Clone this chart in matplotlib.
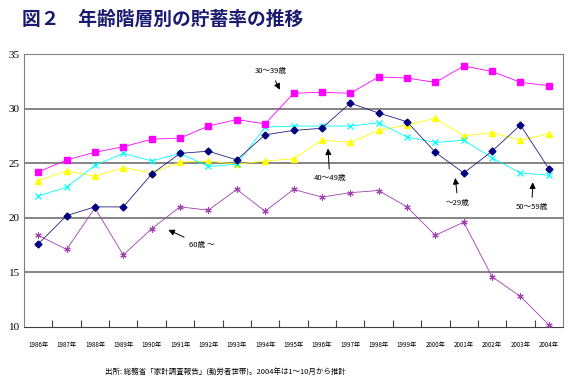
import matplotlib.pyplot as plt
import numpy as np

plt.rcParams['font.family'] = ['Noto Sans CJK JP', 'DejaVu Sans']

# Data
years = [str(y) + '年' for y in range(1986, 2005)]
age_under29 = [23.4, 24.3, 23.8, 24.6, 24.1, 25.1, 25.2, 24.9, 25.2, 25.4,
               27.1, 26.9, 28.0, 28.5, 29.1, 27.5, 27.8, 27.1, 27.7]
age_30s = [24.2, 25.3, 26.0, 26.5, 27.2, 27.3, 28.4, 29.0, 28.6, 31.4,
           31.5, 31.4, 32.9, 32.8, 32.4, 33.9, 33.4, 32.4, 32.1]
age_40s = [17.6, 20.2, 21.0, 21.0, 24.0, 25.9, 26.1, 25.3, 27.6, 28.0,
           28.2, 30.5, 29.6, 28.8, 26.0, 24.1, 26.1, 28.5, 24.5]
age_50s = [22.0, 22.8, 24.8, 25.9, 25.2, 25.9, 24.7, 24.9, 28.3, 28.4,
           28.4, 28.4, 28.7, 27.4, 26.9, 27.1, 25.5, 24.1, 23.9]
age_60plus = [18.4, 17.1, 20.9, 16.6, 19.0, 21.0, 20.7, 22.6, 20.6, 22.6,
              21.9, 22.3, 22.5, 21.0, 18.4, 19.6, 14.6, 12.8, 10.2]

x = np.arange(len(years))

fig = plt.figure(figsize=(5.7, 3.85), dpi=100)
ax = fig.add_axes([24 / 570, 1 - 327 / 385, 539 / 570, 273 / 385])

# grid lines
for g in [15, 20, 25, 30]:
    ax.axhline(g, color='#707070', lw=1.2, zorder=1)

ax.plot(x, age_under29, color='#FFFF00', lw=0.6, marker='^', ms=4.5, zorder=3)
ax.plot(x, age_50s, color='#00FFFF', lw=0.6, marker='x', ms=4, mew=0.9, zorder=3)
ax.plot(x, age_30s, color='#FF00FF', lw=0.6, marker='s', ms=4, zorder=4)
ax.plot(x, age_40s, color='#202080', lw=0.6, marker='D', ms=3.5, zorder=5,
        markerfacecolor='#000080', markeredgecolor='#000080')
ax.plot(x, age_60plus, color='#A040B0', lw=0.6, marker=(6, 2, 0), ms=4.5, mew=0.8,
        zorder=3)

ax.set_xlim(-0.5, len(years) - 0.5)
ax.set_ylim(10, 35)
ax.set_yticks([10, 15, 20, 25, 30, 35])
ax.tick_params(axis='y', length=0, pad=3, labelsize=8, labelfontfamily='Liberation Serif')

ax.set_xticks(np.arange(0.5, len(years) - 1, 1))
ax.set_xticklabels([])
ax.tick_params(axis='x', which='major', direction='in', length=5, color='#404040')
ax.set_xticks(x, minor=True)
ax.set_xticklabels(years, minor=True, fontsize=4.5)
ax.tick_params(axis='x', which='minor', length=0, pad=10)

for side in ['top', 'left', 'right']:
    ax.spines[side].set_color('#808080')
ax.spines['bottom'].set_color('#404040')

# annotations
arrow = dict(arrowstyle='-|>', color='black', lw=0.7, mutation_scale=9)
ax.annotate('30～39歳', xy=(8.56, 31.5), xytext=(8.2, 33.4), fontsize=5.5,
            ha='center', va='center', arrowprops=arrow)
ax.annotate('40～49歳', xy=(10.21, 26.6), xytext=(10.28, 23.6), fontsize=5.5,
            ha='center', va='center', arrowprops=arrow)
ax.annotate('～29歳', xy=(14.69, 23.9), xytext=(14.8, 21.4), fontsize=5.5,
            ha='center', va='center', arrowprops=arrow)
ax.annotate('50～59歳', xy=(17.44, 23.5), xytext=(17.4, 21.0), fontsize=5.5,
            ha='center', va='center', arrowprops=arrow)
ax.annotate('60歳 ～', xy=(4.5, 19.0), xytext=(5.75, 17.5), fontsize=5.5,
            ha='center', va='center', arrowprops=arrow)

# title and source
fig.text(22 / 570, 1 - 19 / 385, '図２　年齢階層別の貯蓄率の推移', fontsize=13.5,
         fontweight='bold', color='#1a1a70', va='center', ha='left')
fig.text(225 / 570, 1 - 373 / 385,
         '出所: 総務省「家計調査報告」(勤労者世帯)。2004年は1～10月から推計',
         fontsize=5.4, ha='center', va='center')

fig.savefig('out.png', dpi=100)
